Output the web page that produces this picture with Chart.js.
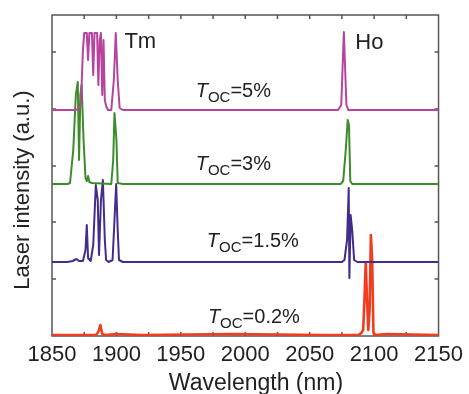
<!DOCTYPE html>
<html>
<head>
<meta charset="utf-8">
<script src="https://cdn.jsdelivr.net/npm/chart.js@4/dist/chart.umd.min.js"></script>
<style>
  html, body { margin: 0; padding: 0; background: #fff; }
</style>
</head>
<body>
<canvas id="spectra" width="469" height="394"></canvas>
<script>
// wavelength axis (nm)
const xMin = 1850, xMax = 2150;
const xTickStep = 25;
const xLabels = [1850, 1900, 1950, 2000, 2050, 2100, 2150];
// intensity axis (a.u.), unlabelled
const yMax = 321;
const yTicks = [57, 114, 170, 227, 284];

// T_OC = 5%
const wl5 = [1850, 1868, 1871, 1872.5, 1874, 1875, 1877, 1878, 1879, 1881, 1882, 1883, 1885, 1886, 1887, 1888, 1889, 1890, 1891, 1892, 1893.5, 1896, 1898, 1899.5, 1901, 1902.5, 1905, 2072, 2074.5, 2076.5, 2078.5, 2080, 2150];
const int5 = [0, 0, 1, 8, 60, 77, 77, 50, 77, 77, 35, 77, 77, 25, 70, 77, 15, 70, 10, 4, 0, 0, 30, 77, 30, 2, 0, 0, 5, 78, 5, 0, 0];
const base5 = 226;

// T_OC = 3%
const wl3 = [1850, 1862, 1864, 1866.5, 1868.5, 1870, 1871, 1872, 1873, 1874.5, 1876, 1877, 1878, 1879, 1881, 1896, 1897.5, 1898.5, 1900, 1901, 1905, 2074, 2076, 2078, 2079.5, 2080.5, 2081.5, 2083, 2150];
const int3 = [0, 0, 1, 34, 89, 102, 24, 89, 99, 44, 6, 3, 8, 2, 1, 0, 24, 71, 44, 1, 0, 0, 3, 34, 64, 59, 3, 0, 0];
const base3 = 152;

// T_OC = 1.5%
const wl15 = [1850, 1862, 1866, 1869, 1871, 1874, 1876, 1877, 1878, 1880, 1882, 1884, 1885.5, 1886.5, 1888, 1889.5, 1891, 1892, 1894, 1897, 1898.5, 1899.8, 1901, 1902, 1905, 2075, 2077, 2079, 2080.3, 2080.8, 2081.8, 2083, 2084.5, 2087, 2150];
const int15 = [0, 0, 1, 3, 1, 1, 12, 37, 4, 1, 17, 77, 62, 7, 62, 82, 22, 2, 0, 2, 42, 78, 32, 2, 0, 0, 2, 22, 74, -16, 47, 32, 2, 0, 0];
const base15 = 74;

// T_OC = 0.2%
const wl02 = [1850, 1870, 1884, 1886, 1887.5, 1889, 1891, 1900, 1920, 1990, 2060, 2088, 2090, 2091.5, 2092.5, 2093.5, 2094.5, 2095.5, 2096.5, 2097.5, 2098.5, 2099.5, 2101, 2110, 2150];
const int02 = [0, 0, 0, 3, 10, 1, 0, 1, 0, 1, 0, 0, 2, 5, 35, 73, 35, 5, 25, 100, 75, 2, 0, 1, 0];
const base02 = 1;

// text annotations, anchored in data units
const ocNames = ['5%', '3%', '1.5%', '0.2%'];
const ocX = [1961.5, 1961.5, 1970.2, 1971];
const ocY = [239, 166, 89, 13];
const bandNames = ['Tm', 'Ho'];
const bandX = [1906.2, 2085.4];
const bandY = [288, 287];

function trace(wl, h, base) {
  return wl.map((x, i) => ({ x: x, y: base + h[i] }));
}

const frame = {
  id: 'frame',
  beforeDatasetsDraw(chart) {
    const { ctx, chartArea: a, scales: { x, y } } = chart;
    ctx.save();
    ctx.strokeStyle = '#555';
    ctx.lineWidth = 1.5;
    ctx.strokeRect(a.left, a.top, a.right - a.left, a.bottom - a.top);
    ctx.beginPath();
    for (let v = xMin + xTickStep; v < xMax; v += xTickStep) {
      const px = x.getPixelForValue(v);
      ctx.moveTo(px, a.bottom); ctx.lineTo(px, a.bottom - 4);
      ctx.moveTo(px, a.top); ctx.lineTo(px, a.top + 4);
    }
    yTicks.forEach(v => {
      const py = y.getPixelForValue(v);
      ctx.moveTo(a.left, py); ctx.lineTo(a.left + 4, py);
      ctx.moveTo(a.right, py); ctx.lineTo(a.right - 4, py);
    });
    ctx.stroke();
    ctx.restore();
  },
  afterDraw(chart) {
    const { ctx, scales: { x, y } } = chart;
    ctx.save();
    ctx.fillStyle = '#222';
    ctx.textBaseline = 'alphabetic';
    ctx.textAlign = 'left';

    ctx.font = '22px "Liberation Sans", Arial, sans-serif';
    bandNames.forEach((t, i) => {
      ctx.fillText(t, x.getPixelForValue(bandX[i]), y.getPixelForValue(bandY[i]));
    });

    ocNames.forEach((t, i) => {
      let px = x.getPixelForValue(ocX[i]);
      const py = y.getPixelForValue(ocY[i]);
      ctx.font = 'italic 20px "Liberation Sans", Arial, sans-serif';
      ctx.fillText('T', px, py);
      px += ctx.measureText('T').width;
      ctx.font = '15px "Liberation Sans", Arial, sans-serif';
      ctx.fillText('OC', px, py + 5);
      px += ctx.measureText('OC').width;
      ctx.font = '20px "Liberation Sans", Arial, sans-serif';
      ctx.fillText('=' + t, px, py);
    });

    // axis titles
    ctx.font = '23px "Liberation Sans", Arial, sans-serif';
    ctx.textAlign = 'center';
    ctx.fillText('Wavelength (nm)', 256, 390);
    ctx.font = '22px "Liberation Sans", Arial, sans-serif';
    ctx.translate(28.5, 190);
    ctx.rotate(-Math.PI / 2);
    ctx.fillText('Laser intensity (a.u.)', 0, 0);
    ctx.restore();
  }
};

new Chart(document.getElementById('spectra'), {
  type: 'line',
  data: {
    datasets: [
      { label: 'TOC=5%', data: trace(wl5, int5, base5), borderColor: '#b8439e', borderWidth: 2 },
      { label: 'TOC=3%', data: trace(wl3, int3, base3), borderColor: '#3c8c2c', borderWidth: 2 },
      { label: 'TOC=1.5%', data: trace(wl15, int15, base15), borderColor: '#432c8e', borderWidth: 2 },
      { label: 'TOC=0.2%', data: trace(wl02, int02, base02), borderColor: '#f23c20', borderWidth: 2.6 }
    ]
  },
  options: {
    responsive: false,
    animation: false,
    layout: { padding: { top: 15, right: 27, left: 0, bottom: 0 } },
    elements: {
      point: { radius: 0 },
      line: { tension: 0, borderJoinStyle: 'round', fill: false }
    },
    plugins: {
      legend: { display: false },
      tooltip: { enabled: false }
    },
    scales: {
      x: {
        type: 'linear',
        min: xMin,
        max: xMax,
        afterFit: s => { s.height = 58; },
        afterBuildTicks: s => { s.ticks = xLabels.map(v => ({ value: v })); },
        grid: { display: false, drawTicks: false },
        border: { display: false },
        ticks: {
          font: { family: '"Liberation Sans", Arial, sans-serif', size: 22 },
          color: '#222',
          padding: 6,
          maxRotation: 0,
          autoSkip: false,
          callback: v => String(v)
        }
      },
      y: {
        type: 'linear',
        min: 0,
        max: yMax,
        afterFit: s => { s.width = 52; },
        grid: { display: false, drawTicks: false },
        border: { display: false },
        ticks: { display: false }
      }
    }
  },
  plugins: [frame]
});
</script>
</body>
</html>
